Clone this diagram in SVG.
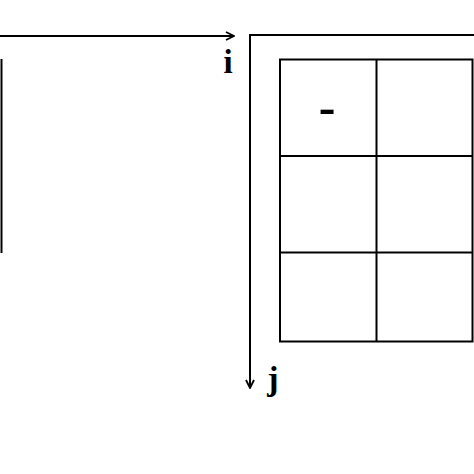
<svg xmlns="http://www.w3.org/2000/svg" width="474" height="474" viewBox="0 0 474 474">
<style>
.ln{stroke:#000;stroke-width:2;fill:none}
.lbl{font-family:"Liberation Serif","Times New Roman",serif;font-weight:bold;fill:#000}
</style>
<defs>
<marker id="arr" viewBox="0 0 10 10" refX="9" refY="5" markerWidth="10" markerHeight="10" markerUnits="userSpaceOnUse" orient="auto">
<path d="M1,1 L9,5 L1,9" fill="none" stroke="#000" stroke-width="1.8"/>
</marker>
</defs>
<rect width="474" height="474" fill="#fff"/>
<g id="connectors">
<line class="ln" x1="0" y1="36" x2="234" y2="36" marker-end="url(#arr)"/>
<line class="ln" x1="1.5" y1="59" x2="1.5" y2="253" stroke-width="3"/>
<polyline class="ln" points="474,35 250,35 250,388" marker-end="url(#arr)"/>
</g>
<g id="grid">
<rect class="ln" x="280" y="59.5" width="192.5" height="282"/>
<line class="ln" x1="376.5" y1="59.5" x2="376.5" y2="341.5"/>
<line class="ln" x1="280" y1="156" x2="472.5" y2="156"/>
<line class="ln" x1="280" y1="252.5" x2="472.5" y2="252.5"/>
</g>
<g id="cell-dash"><text class="lbl" x="327" y="124" font-size="50" text-anchor="middle">-</text></g>
<g id="label-i"><text class="lbl" x="228" y="73" font-size="33" text-anchor="middle">i</text></g>
<g id="label-j"><text class="lbl" x="273" y="390" font-size="34" text-anchor="middle">j</text></g>
</svg>
